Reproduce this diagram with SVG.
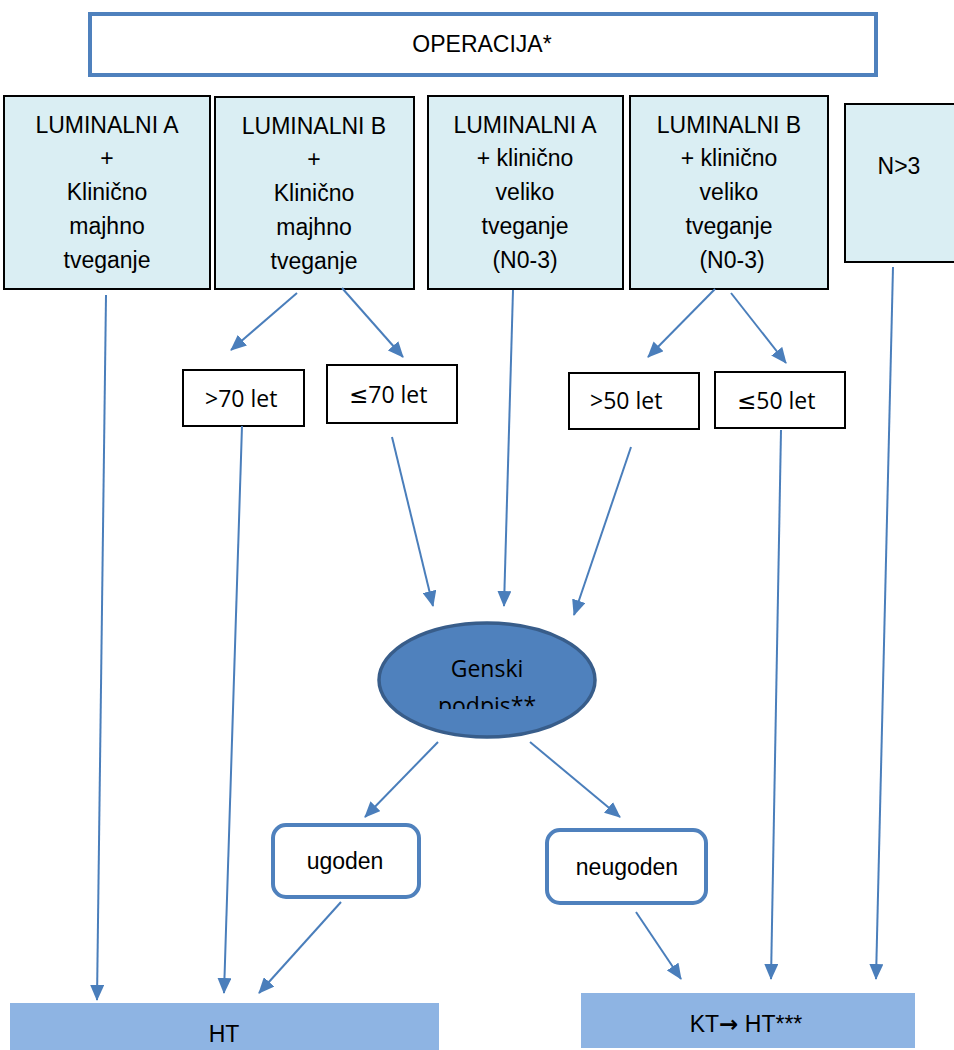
<svg xmlns="http://www.w3.org/2000/svg" width="954" height="1050" viewBox="0 0 954 1050">
  <defs>
    <marker id="arrow" markerUnits="userSpaceOnUse" markerWidth="16" markerHeight="14" refX="15" refY="7" orient="auto">
      <path d="M0,0 L16,7 L0,14 z" fill="#4A7EBB"/>
    </marker>
    <clipPath id="ovalText">
      <rect x="370" y="600" width="240" height="109"/>
    </clipPath>
    <style>
      .txt { font-family: "Liberation Sans", Arial, sans-serif; font-size: 23px; fill: #000; text-anchor: middle; }
      .age { font-family: "Open Sans", "Liberation Sans", sans-serif; font-size: 23px; fill: #000; }
      .sym { font-family: "DejaVu Sans", sans-serif; }
      .type { fill: #DAEEF3; stroke: #000; stroke-width: 2; }
      .age-box { fill: #fff; stroke: #000; stroke-width: 2; }
      .result { fill: #fff; stroke: #4F81BD; stroke-width: 4; }
      .therapy { fill: #8EB4E3; }
      .link { fill: none; stroke: #4A7EBB; stroke-width: 2; marker-end: url(#arrow); }
    </style>
  </defs>

  <!-- surgery header -->
  <g id="operacija">
    <rect x="90" y="14" width="786" height="61" fill="#fff" stroke="#4F81BD" stroke-width="4"/>
    <text class="txt" x="482" y="52">OPERACIJA*</text>
  </g>

  <!-- tumour subtype / risk groups -->
  <g id="lumA-low">
    <rect class="type" x="4" y="96" width="206" height="193"/>
    <text class="txt" x="107" y="133">LUMINALNI A</text>
    <text class="txt" x="107" y="166">+</text>
    <text class="txt" x="107" y="200">Klinično</text>
    <text class="txt" x="107" y="234">majhno</text>
    <text class="txt" x="107" y="268">tveganje</text>
  </g>
  <g id="lumB-low">
    <rect class="type" x="215" y="97" width="199" height="192"/>
    <text class="txt" x="314" y="134">LUMINALNI B</text>
    <text class="txt" x="314" y="167">+</text>
    <text class="txt" x="314" y="201">Klinično</text>
    <text class="txt" x="314" y="235">majhno</text>
    <text class="txt" x="314" y="269">tveganje</text>
  </g>
  <g id="lumA-high">
    <rect class="type" x="428" y="96" width="195" height="193"/>
    <text class="txt" x="525" y="133">LUMINALNI A</text>
    <text class="txt" x="525" y="166">+ klinično</text>
    <text class="txt" x="525" y="200">veliko</text>
    <text class="txt" x="525" y="234">tveganje</text>
    <text class="txt" x="525" y="268">(N0-3)</text>
  </g>
  <g id="lumB-high">
    <rect class="type" x="630" y="96" width="198" height="193"/>
    <text class="txt" x="729" y="133">LUMINALNI B</text>
    <text class="txt" x="729" y="166">+ klinično</text>
    <text class="txt" x="729" y="200">veliko</text>
    <text class="txt" x="729" y="234">tveganje</text>
    <text class="txt" x="732" y="268">(N0-3)</text>
  </g>
  <g id="n-gt3">
    <rect class="type" x="845" y="104" width="115" height="158"/>
    <text class="txt" x="899" y="174">N&gt;3</text>
  </g>

  <!-- age splits -->
  <g id="age-gt70">
    <rect class="age-box" x="183" y="370" width="121" height="56"/>
    <text class="age" x="205" y="407">&gt;70 let</text>
  </g>
  <g id="age-le70">
    <rect class="age-box" x="327" y="365" width="130" height="58"/>
    <text class="age" x="349" y="403"><tspan class="sym">≤</tspan>70 let</text>
  </g>
  <g id="age-gt50">
    <rect class="age-box" x="569" y="373" width="130" height="56"/>
    <text class="age" x="590" y="409">&gt;50 let</text>
  </g>
  <g id="age-le50">
    <rect class="age-box" x="715" y="372" width="130" height="56"/>
    <text class="age" x="737" y="409"><tspan class="sym">≤</tspan>50 let</text>
  </g>

  <!-- gene signature test -->
  <g id="genski-podpis">
    <ellipse cx="487" cy="680" rx="108" ry="57" fill="#4F81BD" stroke="#385D8A" stroke-width="3.5"/>
    <g clip-path="url(#ovalText)">
      <text class="age" x="487" y="677" text-anchor="middle" font-size="22">Genski</text>
      <text class="age" x="487" y="714" text-anchor="middle" font-size="22">podpis**</text>
    </g>
  </g>

  <!-- test results -->
  <g id="ugoden">
    <rect class="result" x="273" y="825" width="146" height="72" rx="13"/>
    <text class="txt" x="345" y="869" font-size="24">ugoden</text>
  </g>
  <g id="neugoden">
    <rect class="result" x="547" y="830" width="159" height="73" rx="13"/>
    <text class="txt" x="627" y="875" font-size="24">neugoden</text>
  </g>

  <!-- treatments -->
  <g id="ht">
    <rect class="therapy" x="10" y="1003" width="429" height="50"/>
    <text class="txt" x="224" y="1042">HT</text>
  </g>
  <g id="kt-ht">
    <rect class="therapy" x="581" y="993" width="334" height="55"/>
    <text class="txt" x="746" y="1032">KT<tspan class="sym" font-weight="bold">→</tspan> HT***</text>
  </g>

  <!-- connectors -->
  <g id="connectors">
    <line class="link" x1="106" y1="295" x2="97" y2="1000"/>
    <line class="link" x1="297" y1="293" x2="231" y2="350"/>
    <line class="link" x1="342" y1="288" x2="403" y2="357"/>
    <line class="link" x1="513" y1="290" x2="504" y2="606"/>
    <line class="link" x1="715" y1="289" x2="648" y2="357"/>
    <line class="link" x1="731" y1="293" x2="786" y2="363"/>
    <line class="link" x1="893" y1="267" x2="876" y2="979"/>
    <line class="link" x1="242" y1="426" x2="224" y2="993"/>
    <line class="link" x1="392" y1="437" x2="433" y2="606"/>
    <line class="link" x1="631" y1="447" x2="574" y2="615"/>
    <line class="link" x1="781" y1="430" x2="771" y2="979"/>
    <line class="link" x1="438" y1="742" x2="365" y2="817"/>
    <line class="link" x1="530" y1="742" x2="620" y2="817"/>
    <line class="link" x1="341" y1="902" x2="259" y2="993"/>
    <line class="link" x1="636" y1="912" x2="681" y2="979"/>
  </g>
</svg>
